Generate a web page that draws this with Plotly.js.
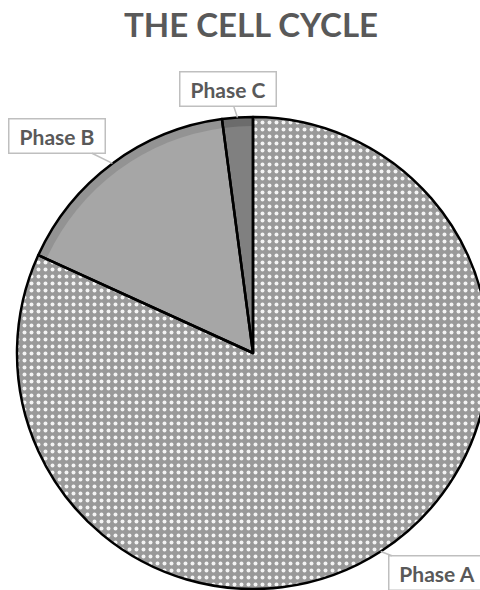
<!DOCTYPE html>
<html>
<head>
<meta charset="utf-8">
<script src="https://cdn.plot.ly/plotly-3.0.1.min.js"></script>
<style>
html,body{margin:0;padding:0;overflow:hidden;background:#fff;width:480px;height:590px;}
#chart{position:absolute;left:0;top:0;}
</style>
</head>
<body>
<div id="chart"></div>
<script>
// Data
const phases = ['Phase A', 'Phase B', 'Phase C'];
const shares = [81.8, 16.1, 2.1];

// Styling (not data)
const outerColors = ['#9a9a9a', '#939393', '#6c6c6c'];
const innerColors = ['rgba(0,0,0,0)', '#a6a6a6', '#808080'];
const labelBoxCenters = [[437, 573], [57, 136], [228, 89]]; // px, callout box centres

const W = 506, H = 590;
const cx = 253, cy = 353, R = 236, Rin = 227;

function dom(r) {
  return {
    x: [(cx - r) / W, (cx + r) / W],
    y: [(H - (cy + r)) / H, (H - (cy - r)) / H]
  };
}

const common = {
  type: 'pie', labels: phases, values: shares, sort: false,
  direction: 'clockwise', rotation: 0, textinfo: 'none',
  hoverinfo: 'skip', showlegend: false
};

const base = Object.assign({}, common, {
  domain: dom(R),
  marker: {
    colors: outerColors,
    line: {width: 0},
    pattern: {shape: ['.', '', ''], bgcolor: '#999999', fgcolor: '#f4f4f4', size: 7, solidity: 0.25}
  }
});
const inner = Object.assign({}, common, {
  domain: dom(Rin),
  marker: {colors: innerColors, line: {width: 0}}
});
const outline = Object.assign({}, common, {
  domain: dom(R),
  marker: {colors: ['rgba(0,0,0,0)', 'rgba(0,0,0,0)', 'rgba(0,0,0,0)'], line: {color: '#000', width: 2.5}}
});

// callout annotations anchored on the slice mid-angle
const total = shares.reduce((a, b) => a + b, 0);
let cum = 0;
const annotations = phases.map((p, i) => {
  const mid = (cum + shares[i] / 2) / total * 2 * Math.PI;
  cum += shares[i];
  const px = cx + R * Math.sin(mid);
  const py = cy - R * Math.cos(mid);
  return {
    text: '<b>' + p + '</b>', xref: 'paper', yref: 'paper',
    x: px / W, y: 1 - py / H,
    ax: labelBoxCenters[i][0] - px, ay: labelBoxCenters[i][1] - py,
    showarrow: true, arrowhead: 0, arrowwidth: 1.5, arrowcolor: '#bfbfbf',
    bgcolor: '#ffffff', bordercolor: '#bfbfbf', borderwidth: 1.5, borderpad: 3,
    width: 89, height: 27,
    font: {family: 'Lato, "Open Sans", sans-serif', size: 21, color: '#595959'}
  };
});

const layout = {
  width: W, height: H,
  margin: {l: 0, r: 0, t: 0, b: 0},
  paper_bgcolor: '#ffffff',
  title: {
    text: '<b>THE CELL CYCLE</b>', xref: 'container', yref: 'container',
    x: 251 / W, xanchor: 'center', y: 1 - 25 / H, yanchor: 'middle',
    font: {family: 'Lato, "Open Sans", sans-serif', size: 33, color: '#595959'}
  },
  annotations: annotations
};

Plotly.newPlot('chart', [base, inner, outline], layout, {displayModeBar: false, staticPlot: true});
</script>
</body>
</html>
